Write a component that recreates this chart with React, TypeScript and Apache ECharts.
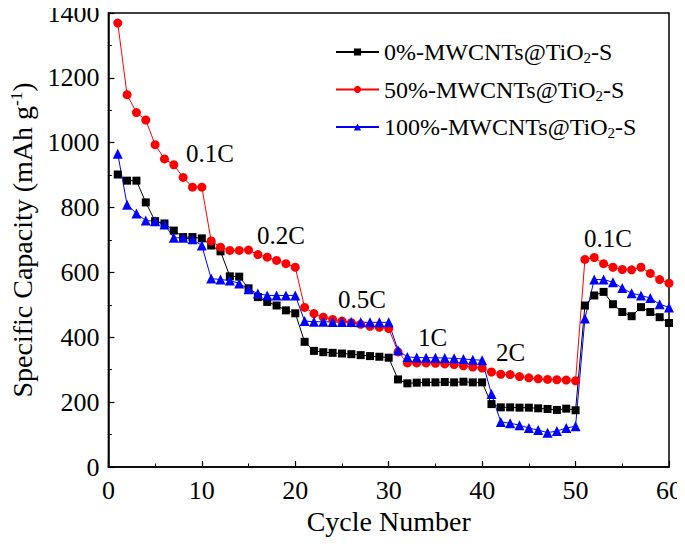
import React, { useEffect, useRef } from "react";
import * as echarts from "echarts";

const cycles = Array.from({ length: 60 }, (_, i) => i + 1);

const cap0 = [
  902, 883, 883, 816, 758, 751, 729, 709, 709, 705,
  683, 665, 588, 587, 551, 524, 509, 498, 483, 474,
  386, 358, 354, 352, 350, 348, 345, 342, 340, 337,
  270, 258, 260, 261, 261, 262, 261, 263, 261, 261,
  194, 184, 184, 183, 183, 181, 179, 176, 180, 175,
  498, 529, 540, 502, 478, 465, 493, 478, 462, 444,
];

const cap50 = [
  1369, 1148, 1093, 1070, 994, 950, 932, 893, 863, 863,
  697, 678, 668, 668, 669, 655, 647, 637, 627, 616,
  492, 473, 462, 455, 450, 445, 440, 434, 431, 427,
  355, 321, 321, 321, 320, 318, 316, 312, 308, 305,
  293, 286, 285, 279, 275, 272, 270, 269, 268, 266,
  640, 646, 627, 616, 609, 608, 616, 597, 578, 567,
];

const cap100 = [
  966, 809, 782, 760, 758, 748, 707, 707, 702, 683,
  581, 578, 575, 566, 548, 535, 529, 529, 529, 529,
  450, 448, 448, 447, 447, 447, 446, 446, 446, 446,
  360, 339, 338, 337, 337, 336, 335, 333, 331, 329,
  225, 139, 135, 129, 120, 114, 106, 111, 120, 126,
  458, 578, 578, 570, 552, 536, 529, 521, 502, 492,
];

const seriesNames = [
  "0%-MWCNTs@TiO2-S",
  "50%-MWCNTs@TiO2-S",
  "100%-MWCNTs@TiO2-S",
];

const rateLabels = [
  { text: "0.1C", x: 186, y: 153 },
  { text: "0.2C", x: 257, y: 235 },
  { text: "0.5C", x: 338, y: 299 },
  { text: "1C", x: 418, y: 337 },
  { text: "2C", x: 496, y: 352 },
  { text: "0.1C", x: 584, y: 238 },
];

const FONT = "'Liberation Serif', 'Times New Roman', serif";

export default function App() {
  const ref = useRef<HTMLDivElement>(null);
  useEffect(() => {
    if (!ref.current) return;
    const chart = echarts.init(ref.current, null, { renderer: "svg" });
    const mk = (vals: number[]) => cycles.map((c, i) => [c, vals[i]]);
    const base = (name: string, data: number[], color: string, symbol: string, size: number) => ({
      name,
      type: "line",
      data: mk(data),
      symbol,
      symbolSize: size,
      itemStyle: { color },
      lineStyle: { color, width: 1 },
      emphasis: { disabled: true },
    });
    chart.setOption({
      animation: false,
      backgroundColor: "#fff",
      grid: {
        left: 106,
        right: 15,
        top: 13,
        bottom: 84,
        show: true,
        borderColor: "#000",
        borderWidth: 1.5,
        backgroundColor: "transparent",
      },
      legend: {
        orient: "vertical",
        left: 330,
        top: 35,
        itemWidth: 43,
        itemHeight: 9,
        itemGap: 12,
        textStyle: {
          fontFamily: FONT,
          fontSize: 24,
          color: "#000",
          rich: {
            n: { fontFamily: FONT, fontSize: 24, color: "#000" },
            sub: { fontFamily: FONT, fontSize: 15, color: "#000", padding: [12, 0, 0, 0] },
          },
        },
        formatter: (name: string) => {
          const parts = name.split("TiO2");
          return `{n|${parts[0]}TiO}{sub|2}{n|${parts[1]}}`;
        },
        data: seriesNames,
      },
      xAxis: {
        type: "value",
        min: 0,
        max: 60,
        interval: 10,
        name: "Cycle Number",
        nameLocation: "middle",
        nameGap: 32,
        nameTextStyle: { fontFamily: FONT, fontSize: 28, color: "#000" },
        axisLine: { show: true, lineStyle: { color: "#000", width: 1.5 } },
        axisTick: { show: true, inside: true, length: 6, lineStyle: { color: "#000", width: 1.2 } },
        minorTick: { show: true, splitNumber: 2, length: 3.5, lineStyle: { color: "#000", width: 1 } },
        axisLabel: { fontFamily: FONT, fontSize: 26, color: "#000", margin: 10 },
        splitLine: { show: false },
      },
      yAxis: {
        type: "value",
        min: 0,
        max: 1400,
        interval: 200,
        name: "Specific Capacity (mAh g{sup|-1})",
        nameLocation: "middle",
        nameGap: 69,
        nameTextStyle: {
          fontFamily: FONT,
          fontSize: 28,
          color: "#000",
          rich: {
            sup: { fontFamily: FONT, fontSize: 17, color: "#000", padding: [0, 0, 12, 0] },
          },
        },
        axisLine: { show: true, lineStyle: { color: "#000", width: 1.5 } },
        axisTick: { show: true, inside: true, length: 6, lineStyle: { color: "#000", width: 1.2 } },
        minorTick: { show: true, splitNumber: 2, length: 3.5, lineStyle: { color: "#000", width: 1 } },
        axisLabel: {
          fontFamily: FONT,
          fontSize: 26,
          color: "#000",
          margin: 9,
          formatter: (v: number) => String(v),
        },
        splitLine: { show: false },
      },
      graphic: rateLabels.map((l) => ({
        type: "text",
        x: l.x,
        y: l.y,
        style: {
          text: l.text,
          fontFamily: FONT,
          fontSize: 25,
          fill: "#000",
          verticalAlign: "middle",
        },
      })),
      series: [
        base(seriesNames[0], cap0, "#000000", "rect", 8),
        base(seriesNames[1], cap50, "#ff0000", "circle", 9),
        base(seriesNames[2], cap100, "#0000ff", "triangle", 10),
      ],
    });
    return () => chart.dispose();
  }, []);
  return <div ref={ref} style={{ width: 685, height: 551, margin: -8 }} />;
}
